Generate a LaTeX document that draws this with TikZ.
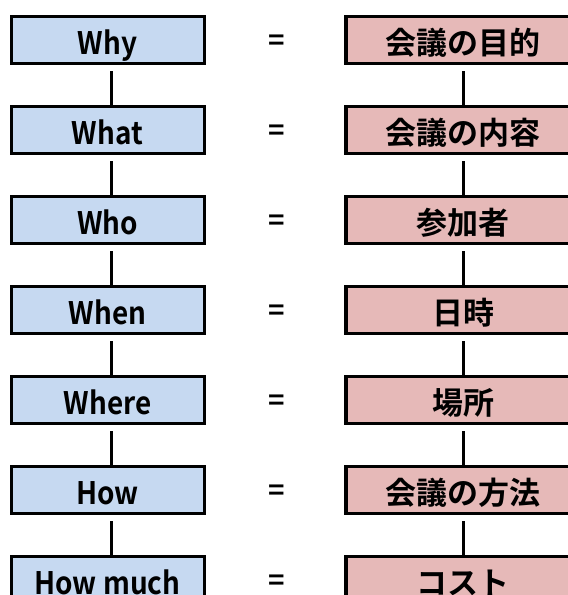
\documentclass[tikz,border=0pt]{standalone}
\usepackage{fontspec}
\setmainfont{Noto Sans CJK JP Bold}
\newfontfamily\narrowfont[FakeStretch=0.9]{Noto Sans CJK JP Bold}
\usepackage{tikz}

\definecolor{whybg}{HTML}{C6D9F1}
\definecolor{jpbg}{HTML}{E6B9B8}

\tikzset{
  qbox/.style={draw=black, fill=whybg, line width=3pt, minimum width=193pt,
    minimum height=47pt, inner sep=0pt, text height=28pt, text depth=0pt,
    font=\narrowfont\fontsize{31}{33}\selectfont},
  abox/.style={draw=black, fill=jpbg, line width=3.6pt, minimum width=234pt,
    minimum height=47pt, inner sep=0pt, text height=29.6pt, text depth=0pt,
    font=\fontsize{31}{33}\selectfont},
  eqsign/.style={inner sep=0pt, font=\fontsize{28}{30}\selectfont},
  link/.style={line width=3pt}
}

\begin{document}
\begin{tikzpicture}[x=1pt,y=-1pt]
    \useasboundingbox (0,0) rectangle (568,595);
    \clip (0,0) rectangle (568,595);
    % question / answer rows
    \foreach \q/\a [count=\i] in {Why/会議の目的, What/会議の内容, Who/参加者,
        When/日時, Where/場所, How/会議の方法, How much/コスト} {
      \pgfmathsetmacro{\ypos}{40+90*(\i-1)}
      \node [qbox] (q\i) at (107.5,\ypos) {\q};
      \node [eqsign] (e\i) at (277,\ypos+3) {=};
      \node [abox] (a\i) at (463,\ypos) {\a};
    }
    % vertical links
    \foreach \i [evaluate=\i as \j using int(\i+1)] in {1,...,6} {
      \draw [link] ([xshift=3.5pt,yshift=-6pt]q\i.south) -- ([xshift=3.5pt]q\j.north);
      \draw [link] ([yshift=-6pt]a\i.south) -- (a\j.north);
    }
\end{tikzpicture}
\end{document}
